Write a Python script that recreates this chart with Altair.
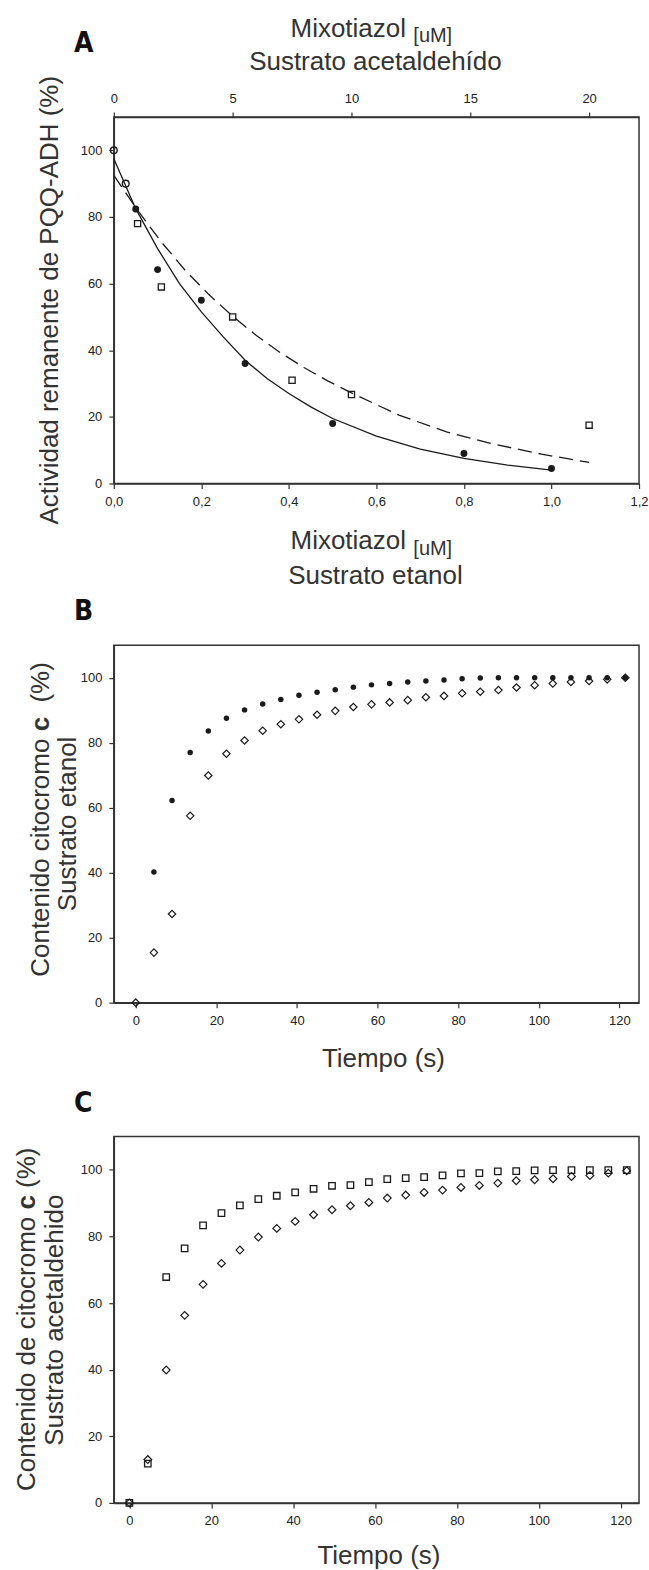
import altair as alt
import pandas as pd

# ---------------- Panel A data ----------------
# Ethanol substrate (bottom axis, Mixotiazol uM 0-1.2), filled circles
et_x = [0.05, 0.1, 0.2, 0.3, 0.5, 0.8, 1.0]
et_y = [82.4, 64.2, 55.0, 36.0, 18.0, 9.0, 4.5]
# Acetaldehyde substrate (top axis, 0-22), open squares
ac_x = [1, 2, 5, 7.5, 10, 20]
ac_y = [78, 59, 50, 31, 26.7, 17.5]
# control points (open circles, top axis)
ctrl_x = [0, 0.5]
ctrl_y = [100, 90]
# fitted curves
fit_et_x = [0, 0.05, 0.1, 0.15, 0.2, 0.25, 0.3, 0.35, 0.4, 0.45, 0.5, 0.6, 0.7, 0.8, 0.9, 1.0]
fit_et_y = [97.5, 82.5, 70.5, 60.0, 51.5, 44.0, 37.0, 31.5, 27.0, 23.0, 19.5, 14.2, 10.3, 7.5, 5.5, 4.0]
fit_ac_x = [0, 1, 2, 3, 4, 5, 6, 7, 8, 9, 10, 12, 14, 16, 18, 20]
fit_ac_y = [92.5, 82.0, 72.5, 64.0, 56.7, 50.2, 44.4, 39.3, 34.8, 30.8, 27.2, 20.5, 15.5, 11.8, 8.8, 6.3]

# ---------------- Panels B / C data ----------------
tiempo = [0, 4.5, 9, 13.5, 18, 22.5, 27, 31.5, 36, 40.5, 45, 49.5, 54, 58.5,
          63, 67.5, 72, 76.5, 81, 85.5, 90, 94.5, 99, 103.5, 108, 112.5, 117, 121.5]
b_filled = [40.2, 62.2, 77.0, 83.6, 87.5, 90.1, 91.9, 93.3, 94.6, 95.5, 96.3, 97.1, 97.8,
            98.2, 98.7, 99.0, 99.3, 99.7, 99.9, 100, 100, 100, 100, 100, 100, 100, 100]
b_diamond = [0, 15.4, 27.3, 57.5, 69.9, 76.6, 80.7, 83.7, 85.7, 87.2, 88.6, 89.8, 91.0, 91.8,
             92.4, 93.1, 94.0, 94.4, 95.2, 95.7, 96.2, 97.0, 97.7, 98.2, 98.7, 99.0, 99.5, 100]
c_square = [0, 11.8, 67.8, 76.4, 83.3, 87.0, 89.3, 91.2, 92.2, 93.2, 94.3, 95.2, 95.4, 96.3,
            97.2, 97.5, 97.8, 98.3, 98.9, 99.0, 99.5, 99.6, 99.8, 99.9, 99.9, 99.9, 99.9, 99.9]
c_diamond = [0, 13.0, 39.9, 56.3, 65.6, 71.9, 75.9, 79.8, 82.4, 84.5, 86.5, 88.0, 89.2, 90.2,
             91.5, 92.4, 93.2, 93.9, 94.7, 95.3, 96.0, 96.7, 97.0, 97.3, 98.0, 98.3, 99.0, 99.7]

FONT = "Liberation Sans"
NARROW = "Liberation Sans Narrow, DejaVu Sans Condensed, Liberation Sans"
INK = "#1a1a1a"
TXT = "#333333"
one = pd.DataFrame({"a": [0]})


def txt(s, x, y, size=26, angle=0, align="left", weight="normal", font=FONT, color=TXT):
    return alt.Chart(one).mark_text(
        align=align, baseline="alphabetic", angle=angle, fontSize=size,
        font=font, fontWeight=weight, color=color
    ).encode(x=alt.value(x), y=alt.value(y), text=alt.value(s))


def spacer(x1, x2, y):
    return alt.Chart(one).mark_rule(opacity=0).encode(
        x=alt.value(x1), x2=alt.value(x2), y=alt.value(y))


W = 526
HA, HB, HC = 367, 358, 367

# ---------------- Panel A ----------------
dfA_et = pd.DataFrame({"x": et_x, "y": et_y})
dfA_ac = pd.DataFrame({"x": ac_x, "y": ac_y})
dfA_ctrl = pd.DataFrame({"x": ctrl_x, "y": ctrl_y})
dfA_fe = pd.DataFrame({"x": fit_et_x, "y": fit_et_y})
dfA_fa = pd.DataFrame({"x": fit_ac_x, "y": fit_ac_y})

yA = alt.Y("y:Q", scale=alt.Scale(domain=[0, 110], nice=False),
           axis=alt.Axis(values=[0, 20, 40, 60, 80, 100], title=None))
xA_bot = alt.X("x:Q", scale=alt.Scale(domain=[0, 1.2], nice=False, zero=False),
               axis=alt.Axis(orient="bottom", values=[0, 0.2, 0.4, 0.6, 0.8, 1.0, 1.2],
                             labelExpr="replace(format(datum.value, '.1f'), '.', ',')",
                             title=None))
xA_top = alt.X("x:Q", scale=alt.Scale(domain=[0, 22.1], nice=False, zero=False),
               axis=alt.Axis(orient="top", values=[0, 5, 10, 15, 20], format="d", title=None))

a_bottom = alt.layer(
    alt.Chart(dfA_fe).mark_line(color=INK, strokeWidth=1.3).encode(x=xA_bot, y=yA),
    alt.Chart(dfA_et).mark_point(shape="circle", filled=True, size=48, color=INK, opacity=1).encode(x=xA_bot, y=yA),
    txt("A", -40, -65, size=28, weight="bold", font=NARROW, color="#111"),
    txt("Mixotiazol", 177, -80),
    txt("[uM]", 300, -75, size=20),
    txt("Sustrato acetaldehído", 262, -47, align="center"),
    txt("Mixotiazol", 177, 433),
    txt("[uM]", 300, 439, size=20),
    txt("Sustrato etanol", 262, 468, align="center"),
    txt("Actividad remanente de PQQ-ADH (%)", -56, 183.5, angle=270, align="center"),
    spacer(-113, -110, -115),
    spacer(0, 1, 475),
)
a_top = alt.layer(
    alt.Chart(dfA_fa).mark_line(color=INK, strokeWidth=1.3, strokeDash=[14, 7]).encode(x=xA_top, y=yA),
    alt.Chart(dfA_ac).mark_point(shape="square", filled=False, size=38, color=INK, strokeWidth=1.3, opacity=1).encode(x=xA_top, y=yA),
    alt.Chart(dfA_ctrl).mark_point(shape="circle", filled=False, size=45, color=INK, strokeWidth=1.4, opacity=1).encode(x=xA_top, y=yA),
)
panelA = alt.layer(a_bottom, a_top).resolve_scale(x="independent").properties(width=W, height=HA)

# ---------------- Panel B ----------------
dfB_f = pd.DataFrame({"t": tiempo[1:], "y": b_filled})
dfB_d = pd.DataFrame({"t": tiempo, "y": b_diamond})
yBC = alt.Y("y:Q", scale=alt.Scale(domain=[0, 110], nice=False),
            axis=alt.Axis(values=[0, 20, 40, 60, 80, 100], title=None))
xB = alt.X("t:Q", scale=alt.Scale(domain=[-5.45, 124.9], nice=False, zero=False),
           axis=alt.Axis(values=[0, 20, 40, 60, 80, 100, 120], title=None))

panelB = alt.layer(
    alt.Chart(dfB_d).mark_point(shape="diamond", filled=False, size=55, color=INK, strokeWidth=1.2, opacity=1).encode(x=xB, y=yBC),
    alt.Chart(dfB_f).mark_point(shape="circle", filled=True, size=30, color=INK, opacity=1).encode(x=xB, y=yBC),
    txt("B", -40, -25, size=28, weight="bold", font=NARROW, color="#111"),
    txt("Contenido citocromo ", -65, 332, angle=270, align="left"),
    txt("c", -65, 79, angle=270, align="center", weight="bold"),
    txt("(%)", -65, 57.4, angle=270, align="left"),
    txt("Sustrato etanol", -38, 179, angle=270, align="center"),
    txt("Tiempo (s)", 270, 422, align="center"),
    spacer(0, 1, -52),
    spacer(0, 1, 433),
).properties(width=W, height=HB)

# ---------------- Panel C ----------------
dfC_s = pd.DataFrame({"t": tiempo, "y": c_square})
dfC_d = pd.DataFrame({"t": tiempo, "y": c_diamond})
xC = alt.X("t:Q", scale=alt.Scale(domain=[-3.8, 124.5], nice=False, zero=False),
           axis=alt.Axis(values=[0, 20, 40, 60, 80, 100, 120], title=None))

panelC = alt.layer(
    alt.Chart(dfC_d).mark_point(shape="diamond", filled=False, size=60, color=INK, strokeWidth=1.2, opacity=1).encode(x=xC, y=yBC),
    alt.Chart(dfC_s).mark_point(shape="square", filled=False, size=42, color=INK, strokeWidth=1.3, opacity=1).encode(x=xC, y=yBC),
    txt("C", -40, -24, size=28, weight="bold", font=NARROW, color="#111"),
    txt("Contenido de citocromo ", -79, 355, angle=270, align="left"),
    txt("c", -79, 66, angle=270, align="center", weight="bold"),
    txt("(%)", -79, 51.5, angle=270, align="left"),
    txt("Sustrato acetaldehido", -51, 184, angle=270, align="center"),
    txt("Tiempo (s)", 265.5, 428, align="center"),
    spacer(0, 1, -57),
).properties(width=W, height=HC)

chart = alt.vconcat(panelA, panelB, panelC, spacing=0).properties(
    padding=0
).configure_view(
    stroke="#333333", strokeWidth=1.5
).configure_axis(
    grid=False, labelFont=FONT, labelFontSize=13, labelColor="#222222",
    labelFlush=False, labelOverlap=False, labelPadding=7,
    domainColor="#333333", domainWidth=1.5,
    tickColor="#333333", tickWidth=1.2, tickSize=5,
)

chart.save("out.html", embed_options={"renderer": "svg", "actions": False})
